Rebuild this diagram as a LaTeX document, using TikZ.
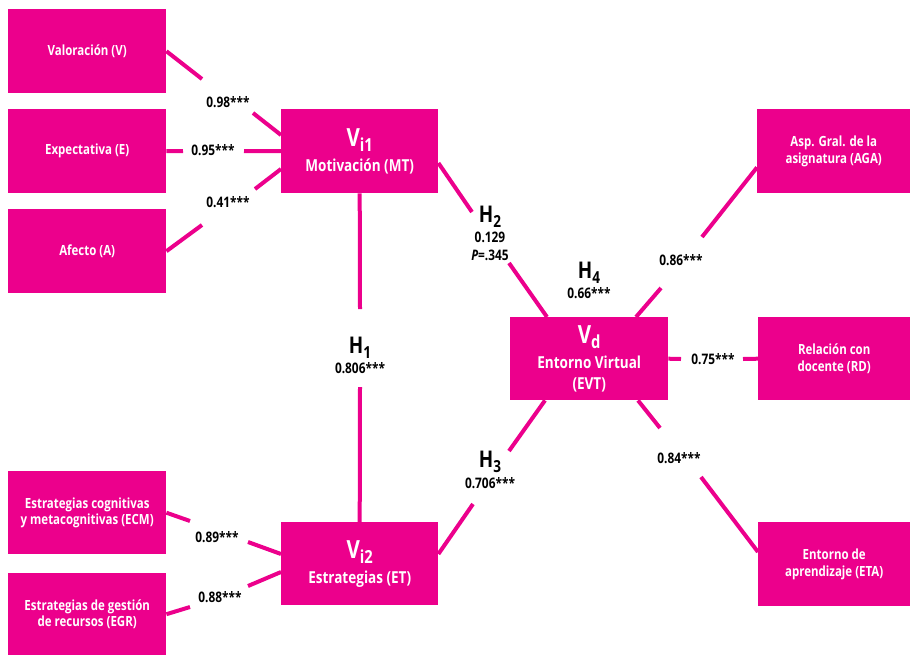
\documentclass[tikz,border=0pt]{standalone}
\usepackage{fontspec}
\usepackage{graphicx}
\setmainfont{Open Sans}[FakeStretch=0.82]
\usetikzlibrary{calc}
\definecolor{pk}{HTML}{EC008C}
\newcommand{\lowsub}[1]{\raisebox{-0.4ex}{\scalebox{0.72}{#1}}}
\tikzset{
  box/.style={fill=pk, text=white, font=\bfseries\fontsize{14}{16.5}\selectfont, align=center, inner sep=0pt, anchor=north west},
  bigbox/.style={box, font=\bfseries\fontsize{16.5}{19}\selectfont},
  lab/.style={font=\bfseries\fontsize{14.5}{16}\selectfont, text=black, inner sep=0pt},
  hyp/.style={font=\bfseries\fontsize{23}{23}\selectfont, text=black, inner sep=0pt},
  conn/.style={draw=pk, line width=4pt}
}
\begin{document}
\begin{tikzpicture}[x=1pt, y=-1pt]
\useasboundingbox (0,0) rectangle (910,654);
% boxes
\node[box, minimum width=158pt, minimum height=84pt] (v) at (8,9) {Valoración (V)};
\node[box, minimum width=158pt, minimum height=84pt] (e) at (8,109) {Expectativa (E)};
\node[box, minimum width=158pt, minimum height=84pt] (a) at (8,209) {Afecto (A)};
\node[bigbox, minimum width=157pt, minimum height=84pt] (mt) at (281,109) {{\fontsize{25}{25}\selectfont V\lowsub{i1}}\\[6pt]Motivación (MT)};
\node[bigbox, minimum width=157pt, minimum height=83pt] (et) at (281,522) {{\fontsize{25}{25}\selectfont V\lowsub{i2}}\\[6pt]Estrategias (ET)};
\node[box, minimum width=158pt, minimum height=83pt] (ecm) at (8,471) {Estrategias cognitivas\\y metacognitivas (ECM)};
\node[box, minimum width=158pt, minimum height=82pt] (egr) at (8,573) {Estrategias de gestión\\de recursos (EGR)};
\node[bigbox, minimum width=158pt, minimum height=83pt] (evt) at (510,317) {{\fontsize{25}{25}\selectfont V\lowsub{d}}\\[6pt]Entorno Virtual\\[2pt](EVT)};
\node[box, minimum width=153pt, minimum height=84pt] (aga) at (757,109) {Asp. Gral. de la\\asignatura (AGA)};
\node[box, minimum width=152pt, minimum height=83pt] (rd) at (758,317) {Relación con\\docente (RD)};
\node[box, minimum width=152pt, minimum height=84pt] (eta) at (758,522) {Entorno de\\aprendizaje (ETA)};
% labels
\node[lab] (l1) at (228,102) {0.98***};
\node[lab] (l2) at (213,150) {0.95***};
\node[lab] (l3) at (228,202) {0.41***};
\node[hyp] (h1) at (360,348) {H\lowsub{1}};
\node[lab] (h1v) at (360,368) {0.806***};
\node[lab] (l4) at (217,537) {0.89***};
\node[lab] (l5) at (220,597) {0.88***};
\node[hyp] (h2) at (490,217) {H\lowsub{2}};
\node[lab] (h2v) at (490,237) {0.129};
\node[lab] (h2p) at (490,255) {\textit{P}=.345};
\node[hyp] (h4) at (589,273) {H\lowsub{4}};
\node[lab] (h4v) at (589,293) {0.66***};
\node[lab] (l6) at (681,260) {0.86***};
\node[lab] (l7) at (713,359) {0.75***};
\node[hyp] (h3) at (490,462) {H\lowsub{3}};
\node[lab] (h3v) at (490,483) {0.706***};
\node[lab] (l8) at (679,458) {0.84***};
% free ends
\coordinate (c1a) at (202,79);  \coordinate (c1b) at (253,113);
\coordinate (c2a) at (183,151); \coordinate (c2b) at (244,151);
\coordinate (c3a) at (255,189); \coordinate (c3b) at (202,225);
\coordinate (c4a) at (360,309); \coordinate (c4b) at (360,387);
\coordinate (c5a) at (190,521); \coordinate (c5b) at (248,542);
\coordinate (c6a) at (248,586); \coordinate (c6b) at (190,607);
\coordinate (c7a) at (472,212); \coordinate (c7b) at (509,263);
\coordinate (c8a) at (702,237); \coordinate (c8b) at (661,288);
\coordinate (c9a) at (681,359); \coordinate (c9b) at (743,359);
\coordinate (c10a) at (509,451); \coordinate (c10b) at (473,504);
\coordinate (c11a) at (660,428); \coordinate (c11b) at (701,477);
% connectors
\draw[conn] (v.east) -- (c1a);
\draw[conn] (c1b) -- ($(mt.north west)+(0,26)$);
\draw[conn] (e.east) -- (c2a);
\draw[conn] (c2b) -- (mt.west);
\draw[conn] ($(mt.north west)+(0,60)$) -- (c3a);
\draw[conn] (c3b) -- (a.east);
\draw[conn] (mt.south) -- (c4a);
\draw[conn] (c4b) -- (et.north);
\draw[conn] (ecm.east) -- (c5a);
\draw[conn] (c5b) -- ($(et.north west)+(0,32)$);
\draw[conn] ($(et.north west)+(0,50)$) -- (c6a);
\draw[conn] (c6b) -- (egr.east);
\draw[conn] ($(mt.north east)+(0,54)$) -- (c7a);
\draw[conn] (c7b) -- ($(evt.north west)+(37,0)$);
\draw[conn] ($(aga.south west)+(0,-26)$) -- (c8a);
\draw[conn] (c8b) -- ($(evt.north west)+(126,0)$);
\draw[conn] (evt.east) -- (c9a);
\draw[conn] (c9b) -- (rd.west);
\draw[conn] ($(evt.south west)+(35,0)$) -- (c10a);
\draw[conn] (c10b) -- ($(et.north east)+(0,32)$);
\draw[conn] ($(evt.south west)+(128,0)$) -- (c11a);
\draw[conn] (c11b) -- ($(eta.north west)+(0,30)$);
\end{tikzpicture}
\end{document}
